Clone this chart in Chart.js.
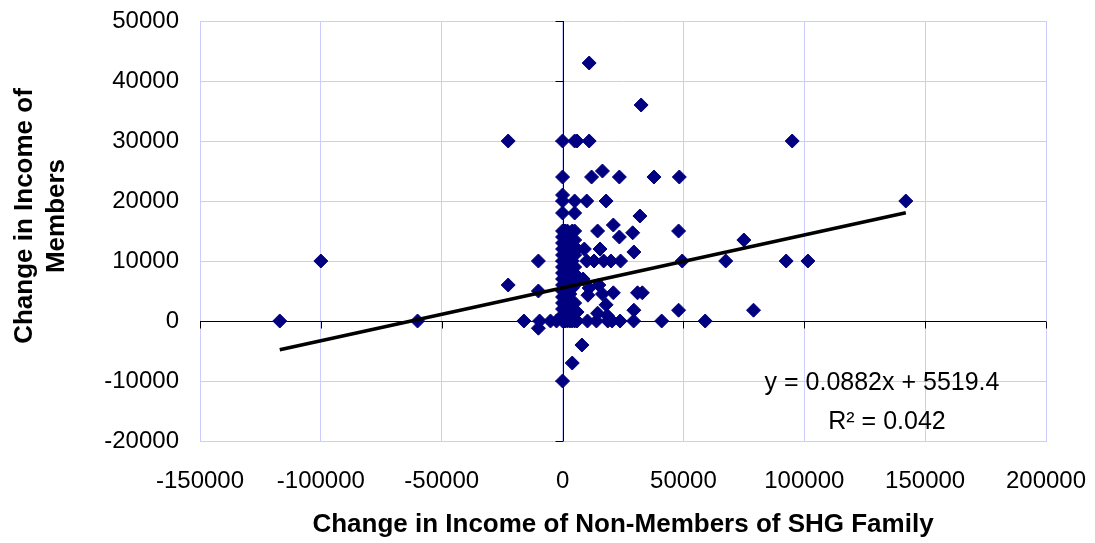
<!DOCTYPE html>
<html>
<head>
<meta charset="utf-8">
<script src="https://cdn.jsdelivr.net/npm/chart.js@4.4.0/dist/chart.umd.min.js"></script>
<style>
html,body{margin:0;padding:0;background:#ffffff;}
#wrap{width:1095px;height:543px;position:relative;}
</style>
</head>
<body>
<div id="wrap"><canvas id="c" width="1095" height="543"></canvas></div>
<script>
// ---- data ----
const xAxisTitle = 'Change in Income of Non-Members of SHG Family';
const yAxisTitleLines = ['Change in Income of', 'Members'];
const xTickValues = [-150000, -100000, -50000, 0, 50000, 100000, 150000, 200000];
const yTickValues = [-20000, -10000, 0, 10000, 20000, 30000, 40000, 50000];
const trendSlope = 0.0882;
const trendIntercept = 5519.4;
const equationLabel = 'y = 0.0882x + 5519.4';
const rSquaredLabel = 'R² = 0.042';

// Change in income of non-members (x)
const changeNonMembers = [
  -117000, -100000, -60000, -22500, -22500, -16000, -10000, -10000, -10000, -9500, -5000, -2500,
  11000, 32500, 0, 5000, 6000, 11000, 95000, 0, 12000, 16500, 23500, 37800, 48300,
  0, 0, 5000, 10000, 18000, 142000, 0, 5000, 32000, 21000,
  14500, 29000, 48000, 23500, 75000, 9000, 15500, 29500, 10000, 13000, 17000, 20000, 24000,
  49500, 67500, 92500, 101500,
  8500, 11000, 10500, 15000, 16500, 21000, 31000, 33000, 18000, 14500, 18500, 29500, 48000, 79000,
  10300, 14000, 18700, 20500, 23800, 29400, 41000, 59000,
  8000, 4000, 0,
  0, 0, 0, 0, 0, 0, 0, 0, 0, 0, 0, 0, 0, 0, 0, 0,
  1000, 1000, 1000, 1000, 1000, 1000, 1000,
  2000, 2000, 2000, 2000, 2000, 2000, 2000, 2000,
  3000, 3000, 3000, 3000, 3000, 3000, 3000,
  4000, 4000, 4000, 4000, 4000, 4000, 4000,
  5000, 5000, 5000, 5000, 5000, 5000, 5000,
  6000, 6000, 6000, 6000
];
// Change in income of members (y)
const changeMembers = [
  0, 10000, 0, 30000, 6000, 0, 10000, 5000, -1200, 0, 0, 0,
  43000, 36000, 30000, 30000, 30000, 30000, 30000, 24000, 24000, 25000, 24000, 24000, 24000,
  21000, 20000, 20000, 20000, 20000, 20000, 18000, 18000, 17500, 16000,
  15000, 14700, 15000, 14000, 13500, 12000, 12000, 11500, 10000, 10000, 10000, 10000, 10000,
  10000, 10000, 10000, 10000,
  7000, 5500, 4300, 6000, 4500, 4700, 4700, 4700, 2700, 1300, 900, 1800, 1800, 1800,
  0, 0, 0, 0, 0, 0, 0, 0,
  -4000, -7000, -10000,
  0, 1000, 2000, 3000, 4000, 5000, 6000, 7000, 8000, 9000, 10000, 11000, 12000, 13000, 14000, 15000,
  0, 2500, 5000, 7500, 10000, 12500, 15000,
  0, 1500, 3500, 6000, 8500, 11000, 13000, 15000,
  0, 1000, 4500, 7000, 9500, 12000, 14000,
  0, 2000, 5500, 8000, 10000, 12500, 15000,
  0, 3000, 6000, 9000, 11000, 13500, 15000,
  0, 1500, 7500, 12000
];

// ---- build chart ----
const FONT = "'Liberation Sans', Arial, Helvetica, sans-serif";
const points = changeNonMembers.map((x, i) => ({ x: x, y: changeMembers[i] }));
const xMin = Math.min(...changeNonMembers);
const xMax = Math.max(...changeNonMembers);
const trendPoints = [xMin, xMax].map(x => ({ x: x, y: trendSlope * x + trendIntercept }));

const decorPlugin = {
  id: 'decor',
  beforeDatasetsDraw(chart) {
    const { ctx, chartArea: a, scales: { x, y } } = chart;
    const x0 = Math.round(x.getPixelForValue(0)) + 0.5;
    const y0 = Math.round(y.getPixelForValue(0)) + 0.5;
    ctx.save();
    ctx.strokeStyle = '#000000';
    ctx.lineWidth = 1;
    ctx.beginPath();
    ctx.moveTo(x0, a.top);
    ctx.lineTo(x0, a.bottom);
    ctx.moveTo(a.left, y0);
    ctx.lineTo(a.right, y0);
    yTickValues.forEach(v => {
      const py = Math.round(y.getPixelForValue(v)) + 0.5;
      ctx.moveTo(x0 - 8, py);
      ctx.lineTo(x0, py);
    });
    xTickValues.forEach(v => {
      const px = Math.round(x.getPixelForValue(v)) + 0.5;
      ctx.moveTo(px, y0);
      ctx.lineTo(px, y0 + 7);
    });
    ctx.stroke();
    ctx.restore();
  },
  afterDraw(chart) {
    const { ctx, chartArea: a } = chart;
    ctx.save();
    ctx.fillStyle = '#000000';
    // x axis title
    ctx.font = 'bold 26px ' + FONT;
    ctx.textAlign = 'center';
    ctx.textBaseline = 'middle';
    ctx.fillText(xAxisTitle, (a.left + a.right) / 2, 525);
    // y axis title (two lines, rotated)
    const lineX = [25, 57];
    yAxisTitleLines.forEach((t, i) => {
      ctx.save();
      ctx.translate(lineX[i], 216);
      ctx.rotate(-Math.PI / 2);
      ctx.fillText(t, 0, 0);
      ctx.restore();
    });
    // trend equation
    ctx.font = '25px ' + FONT;
    ctx.textAlign = 'center';
    ctx.fillText(equationLabel, 882, 383);
    ctx.fillText(rSquaredLabel, 887, 422);
    ctx.restore();
  }
};

new Chart(document.getElementById('c'), {
  type: 'scatter',
  data: {
    datasets: [
      {
        label: 'Trend',
        data: trendPoints,
        showLine: true,
        borderColor: '#000000',
        borderWidth: 3.5,
        pointRadius: 0,
        fill: false,
        order: 1
      },
      {
        label: 'Change in Income',
        data: points,
        pointStyle: 'rectRot',
        pointRadius: 7,
        pointBackgroundColor: '#000080',
        pointBorderColor: '#000080',
        pointBorderWidth: 1,
        order: 2
      }
    ]
  },
  options: {
    responsive: false,
    animation: false,
    devicePixelRatio: 1,
    layout: { padding: { top: 21, right: 49, left: 0, bottom: 0 } },
    plugins: { legend: { display: false }, tooltip: { enabled: false }, title: { display: false } },
    scales: {
      x: {
        type: 'linear',
        min: -150000,
        max: 200000,
        afterBuildTicks: s => { s.ticks = xTickValues.map(v => ({ value: v })); },
        afterFit: s => { s.height = 102; s.paddingLeft = 0; s.paddingRight = 0; },
        ticks: {
          color: '#000000',
          font: { family: FONT, size: 24 },
          padding: 26,
          maxRotation: 0,
          callback: v => String(v)
        },
        grid: { color: '#ccccff', lineWidth: 1, drawTicks: false },
        border: { display: true, color: '#ccccff' }
      },
      y: {
        type: 'linear',
        min: -20000,
        max: 50000,
        afterBuildTicks: s => { s.ticks = yTickValues.map(v => ({ value: v })); },
        afterFit: s => { s.width = 200; s.paddingTop = 0; s.paddingBottom = 0; },
        ticks: {
          color: '#000000',
          font: { family: FONT, size: 24 },
          padding: 21,
          callback: v => String(v)
        },
        grid: { color: '#ccccff', lineWidth: 1, drawTicks: false },
        border: { display: true, color: '#ccccff' }
      }
    }
  },
  plugins: [decorPlugin]
});
</script>
</body>
</html>
